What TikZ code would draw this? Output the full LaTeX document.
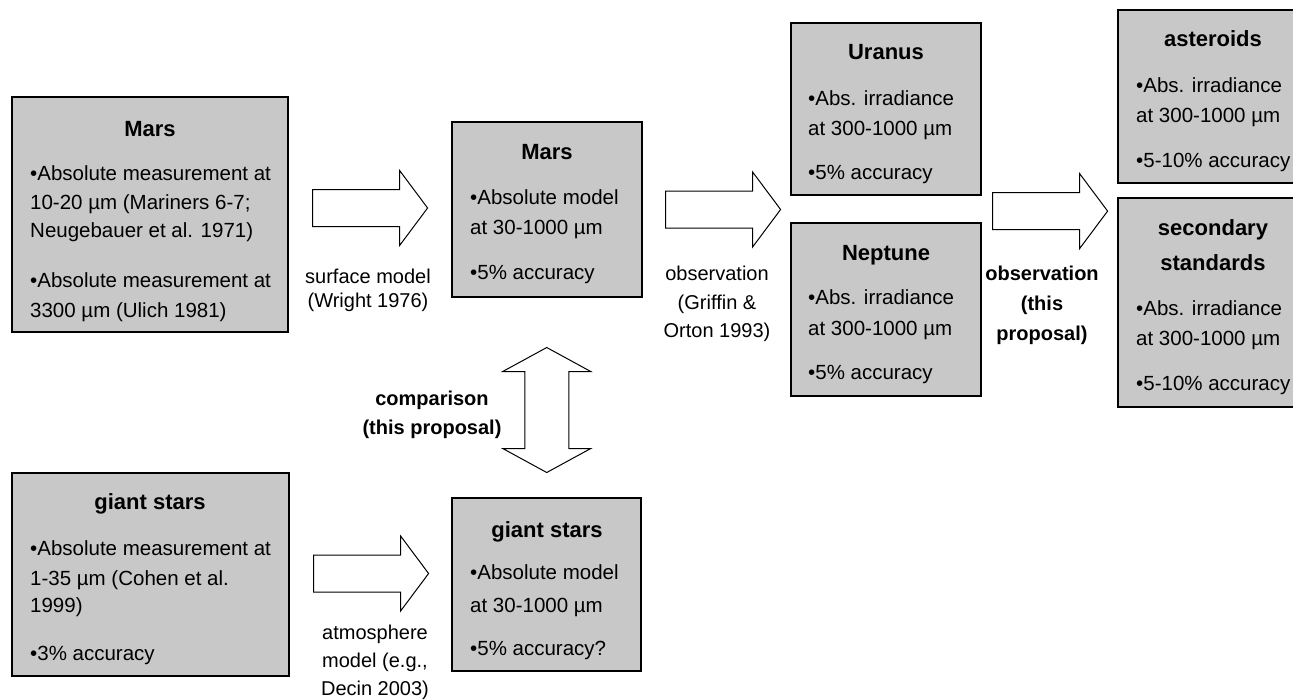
\documentclass[tikz,border=0pt]{standalone}
\usepackage{fontspec}
\setmainfont{Liberation Sans}
\usetikzlibrary{calc}
\definecolor{boxgray}{RGB}{200,200,200}

\tikzset{
  box/.style={rectangle, draw=black, line width=1.2pt, fill=boxgray, inner sep=0pt},
  ttl/.style={font=\fontsize{22}{26}\selectfont\bfseries, anchor=base, inner sep=0pt},
  txt/.style={font=\fontsize{20.5}{24}\selectfont, anchor=base west, inner sep=0pt},
  lbl/.style={font=\fontsize{20}{24}\selectfont, anchor=base, inner sep=0pt},
  lblb/.style={font=\fontsize{20}{24}\selectfont\bfseries, anchor=base, inner sep=0pt},
  blockline/.style={draw=black, line width=1pt, fill=white},
  fatarrow/.pic={\draw[blockline] (0,-18.5) -- (87,-18.5) -- (87,-37.5) -- (115,0)
      -- (87,37.5) -- (87,18.5) -- (0,18.5) -- cycle;},
  fatdouble/.pic={\draw[blockline] (-22,-38.5) -- (-22,38.5) -- (-44,38.5) -- (0,62.5)
      -- (44,38.5) -- (22,38.5) -- (22,-38.5) -- (44,-38.5) -- (0,-62.5) -- (-44,-38.5) -- cycle;}
}

\begin{document}
\begin{tikzpicture}[x=1pt,y=-1pt]
    \useasboundingbox (0,0) rectangle (1293,699);
    \clip (0,0) rectangle (1293,699);

    % boxes
    \node[box, minimum width=276, minimum height=235] (marsL) at (150,214.5) {};
    \node[box, minimum width=190, minimum height=175] (marsM) at (547,209.5) {};
    \node[box, minimum width=190, minimum height=172] (uranus) at (886,109) {};
    \node[box, minimum width=190, minimum height=173] (neptune) at (886,309.5) {};
    \node[box, minimum width=190, minimum height=173] (asteroids) at (1213,96.5) {};
    \node[box, minimum width=190, minimum height=209] (secstd) at (1213,302.5) {};
    \node[box, minimum width=277, minimum height=203] (giantL) at (150.5,574.5) {};
    \node[box, minimum width=189, minimum height=173] (giantM) at (546.5,584.5) {};

    % Mars, measurement
    \node[ttl] (marsLt) at (150,136) {Mars};
    \node[txt] (marsLa) at (30,180) {•Absolute measurement at};
    \node[txt] (marsLb) at (30,209) {10-20 µm (Mariners 6-7;};
    \node[txt] (marsLc) at (30,237) {Neugebauer et al. 1971)};
    \node[txt] (marsLd) at (30,287) {•Absolute measurement at};
    \node[txt] (marsLe) at (30,317) {3300 µm (Ulich 1981)};

    % Mars, model
    \node[ttl] (marsMt) at (547,159) {Mars};
    \node[txt] (marsMa) at (470,204) {•Absolute model};
    \node[txt] (marsMb) at (470,234) {at 30-1000 µm};
    \node[txt] (marsMc) at (470,279) {•5\% accuracy};

    % Uranus and Neptune
    \node[ttl] (uranust) at (886,59) {Uranus};
    \node[txt] (uranusa) at (808,105) {•Abs. irradiance};
    \node[txt] (uranusb) at (808,135) {at 300-1000 µm};
    \node[txt] (uranusc) at (808,179) {•5\% accuracy};

    \node[ttl] (neptunet) at (886,260) {Neptune};
    \node[txt] (neptunea) at (808,304) {•Abs. irradiance};
    \node[txt] (neptuneb) at (808,335) {at 300-1000 µm};
    \node[txt] (neptunec) at (808,379) {•5\% accuracy};

    % asteroids and secondary standards
    \node[ttl] (asteroidst) at (1213,46) {asteroids};
    \node[txt] (asteroidsa) at (1136,92) {•Abs. irradiance};
    \node[txt] (asteroidsb) at (1136,122) {at 300-1000 µm};
    \node[txt] (asteroidsc) at (1136,167) {•5-10\% accuracy};

    \node[ttl] (secstdt) at (1213,235) {secondary};
    \node[ttl] (secstdu) at (1213,270) {standards};
    \node[txt] (secstda) at (1136,315) {•Abs. irradiance};
    \node[txt] (secstdb) at (1136,345) {at 300-1000 µm};
    \node[txt] (secstdc) at (1136,390) {•5-10\% accuracy};

    % giant stars
    \node[ttl] (giantLt) at (150,509) {giant stars};
    \node[txt] (giantLa) at (30,555) {•Absolute measurement at};
    \node[txt] (giantLb) at (30,585) {1-35 µm (Cohen et al.};
    \node[txt] (giantLc) at (30,612) {1999)};
    \node[txt] (giantLd) at (30,660) {•3\% accuracy};

    \node[ttl] (giantMt) at (547,537) {giant stars};
    \node[txt] (giantMa) at (470,579) {•Absolute model};
    \node[txt] (giantMb) at (470,612) {at 30-1000 µm};
    \node[txt] (giantMc) at (470,655) {•5\% accuracy?};

    % block arrows
    \pic (arrSurface) at ($(marsL.east)+(24,-6.5)$) {fatarrow};
    \pic (arrGriffin) at ($(marsM.east)+(23,0)$) {fatarrow};
    \pic (arrProposal) at ($(uranus.south east)+(11,15.5)$) {fatarrow};
    \pic (arrAtmos) at ($(giantL.east)+(24,-1)$) {fatarrow};
    \pic (arrCompare) at ($(marsM.south)!0.5!(giantM.north)+(0,12.5)$) {fatdouble};

    % arrow labels
    \node[lbl] (surfa) at (368,283) {surface model};
    \node[lbl] (surfb) at (368,307) {(Wright 1976)};

    \node[lbl] (obsa) at (717,280) {observation};
    \node[lbl] (obsb) at (717,309) {(Griffin \&};
    \node[lbl] (obsc) at (717,337) {Orton 1993)};

    \node[lblb] (propa) at (1042,280) {observation};
    \node[lblb] (propb) at (1042,310) {(this};
    \node[lblb] (propc) at (1042,340) {proposal)};

    \node[lblb] (compa) at (432,405) {comparison};
    \node[lblb] (compb) at (432,434) {(this proposal)};

    \node[lbl] (atma) at (375,639) {atmosphere};
    \node[lbl] (atmb) at (375,667) {model (e.g.,};
    \node[lbl] (atmc) at (375,695) {Decin 2003)};
\end{tikzpicture}
\end{document}
